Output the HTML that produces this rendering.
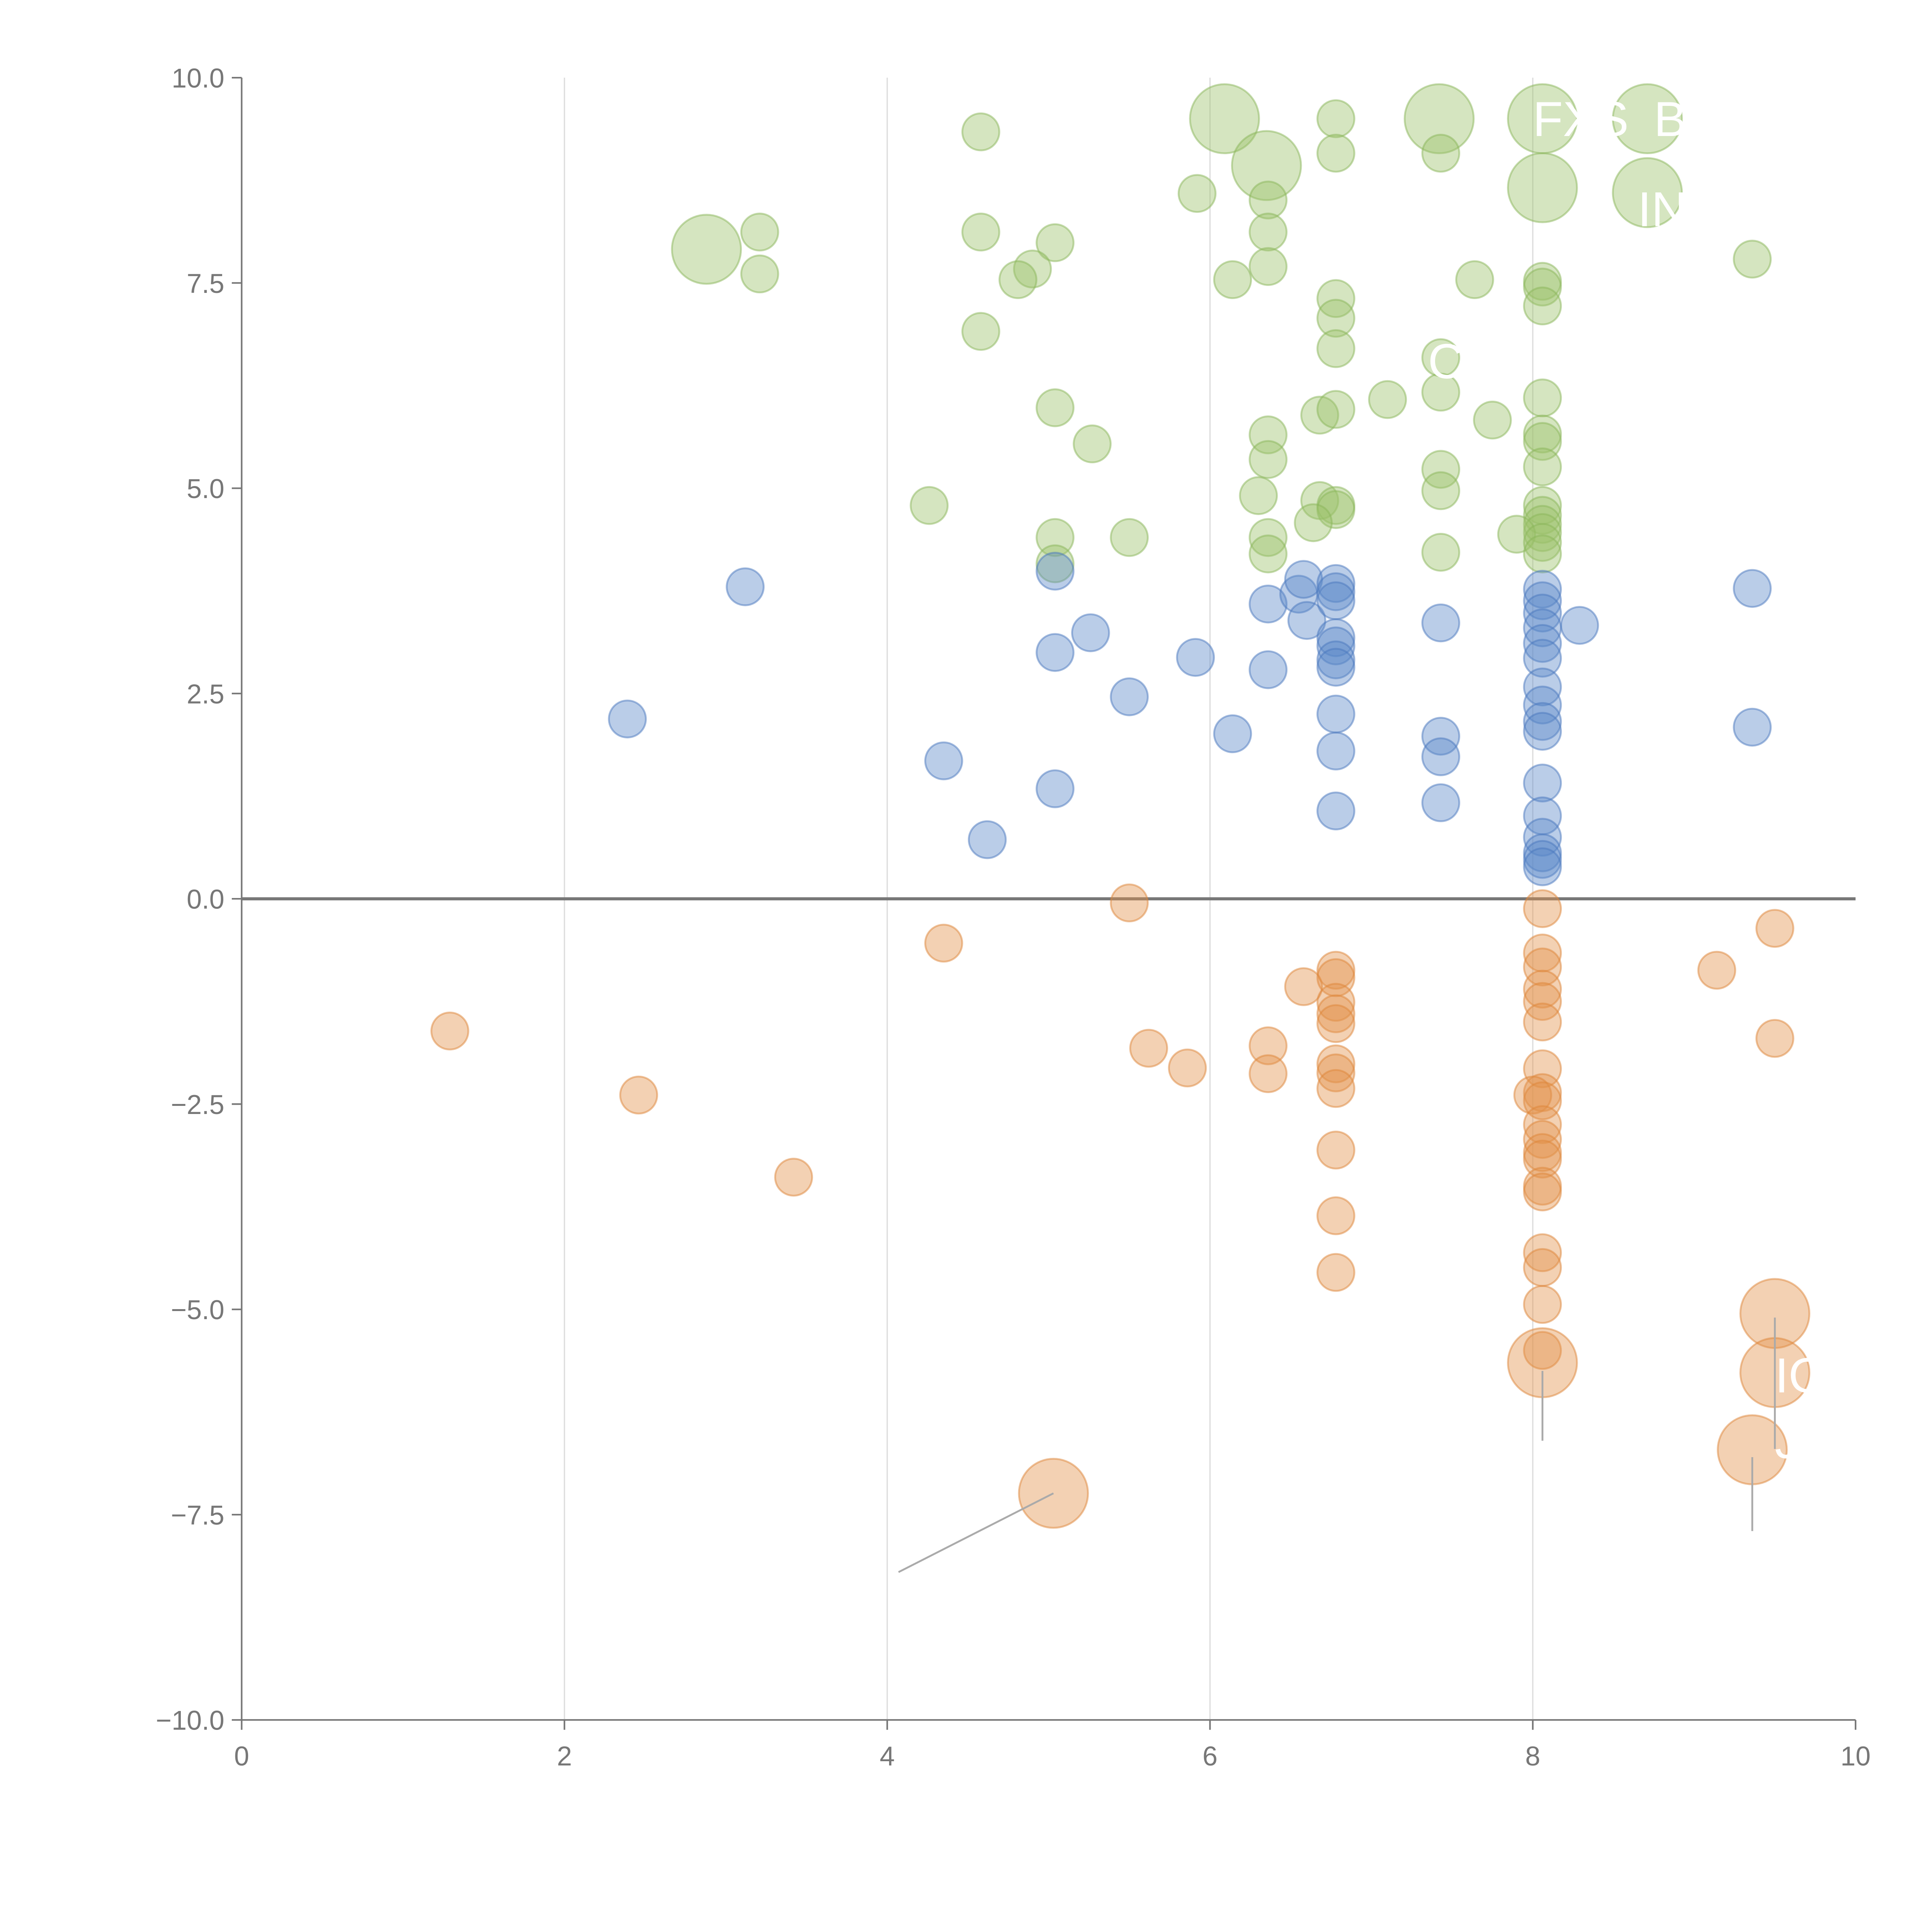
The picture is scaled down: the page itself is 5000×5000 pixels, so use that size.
<!DOCTYPE html>
<html><head><meta charset="utf-8"><style>
html,body{margin:0;padding:0;background:#fff}
svg{display:block}
</style></head><body>
<svg id="chart" width="5000" height="5000" viewBox="0 0 1567 1567" xmlns="http://www.w3.org/2000/svg" font-family="'Liberation Sans', sans-serif">
<g id="grid"></g>
<g id="axes"></g>
<g id="marks"></g>
<g id="labels"></g>
</svg>
<script>
const xTicks=[0,2,4,6,8,10];
const yTicks=[10,7.5,5,2.5,0,-2.5,-5,-7.5,-10];
const yTickLabels=["10.0","7.5","5.0","2.5","0.0","\u22122.5","\u22125.0","\u22127.5","\u221210.0"];
const greenX=[4.58,3.21,3.21,2.88,4.58,5.04,4.90,4.81,4.58,5.04,5.27,4.26,5.04,5.04,5.50,5.92,6.09,6.35,6.14,6.36,6.36,6.36,6.36,6.36,6.30,6.36,6.36,6.68,6.78,6.78,6.78,6.78,6.78,6.78,6.68,6.78,6.78,6.64,7.10,7.42,7.43,7.64,7.43,7.43,7.75,7.43,7.43,7.43,8.06,8.06,8.06,8.06,8.06,8.06,8.06,8.06,8.06,8.06,8.06,8.06,8.06,7.90,8.06,8.06,8.71,8.71,9.36];
const greenY=[9.34,8.12,7.61,7.91,8.12,7.99,7.67,7.54,6.91,5.98,5.54,4.79,4.40,4.08,4.40,8.59,9.50,8.93,7.54,8.51,8.12,7.70,5.65,5.35,4.91,4.40,4.20,5.89,9.50,9.08,7.31,7.07,6.70,5.96,4.85,4.79,4.74,4.58,6.08,9.50,9.08,7.54,6.59,6.17,5.83,5.23,4.97,4.22,9.50,8.66,7.52,7.45,7.22,6.10,5.66,5.57,5.26,4.79,4.67,4.56,4.46,4.44,4.34,4.20,9.50,8.60,7.79];
const greenSize=[1,1,1,2,1,1,1,1,1,1,1,1,1,1,1,1,2,2,1,1,1,1,1,1,1,1,1,1,1,1,1,1,1,1,1,1,1,1,1,2,1,1,1,1,1,1,1,1,2,2,1,1,1,1,1,1,1,1,1,1,1,1,1,1,2,2,1];
const blueX=[2.39,3.12,4.35,4.62,5.04,5.04,5.04,5.26,5.50,5.91,6.14,6.36,6.36,6.55,6.60,6.58,6.78,6.78,6.78,6.78,6.78,6.78,6.78,6.78,6.78,6.78,7.43,7.43,7.43,7.43,8.06,8.06,8.06,8.06,8.06,8.06,8.06,8.06,8.06,8.06,8.06,8.06,8.06,8.06,8.06,8.06,8.29,9.36,9.36];
const blueY=[2.19,3.80,1.68,0.72,3.99,3.00,1.34,3.24,2.46,2.94,2.01,3.59,2.79,3.71,3.39,3.89,3.84,3.74,3.63,3.18,3.08,2.91,2.82,2.25,1.80,1.07,3.36,1.98,1.73,1.17,3.77,3.63,3.48,3.30,3.11,2.93,2.58,2.36,2.16,2.04,1.41,1.01,0.75,0.56,0.48,0.39,3.33,3.78,2.09];
const orangeX=[1.29,2.46,3.42,4.35,5.50,5.62,5.86,5.03,6.36,6.36,6.58,6.78,6.78,6.78,6.78,6.78,6.78,6.78,6.78,6.78,6.78,6.78,8.06,8.06,8.06,8.06,8.06,8.06,8.06,8.06,8.00,8.06,8.06,8.06,8.06,8.06,8.06,8.06,8.06,8.06,8.06,8.06,8.06,9.14,9.50,9.50,9.50,9.50,9.36];
const orangeY=[-1.61,-2.39,-3.39,-0.54,-0.05,-1.82,-2.06,-7.24,-1.79,-2.13,-1.07,-0.87,-0.96,-1.26,-1.40,-1.52,-2.01,-2.12,-2.31,-3.06,-3.86,-4.55,-0.12,-0.66,-0.83,-1.10,-1.25,-1.50,-2.07,-2.36,-2.39,-2.46,-2.75,-2.93,-3.09,-3.17,-3.50,-3.57,-4.31,-4.49,-4.94,-5.50,-5.65,-0.87,-0.36,-1.70,-5.05,-5.77,-6.71];
const orangeSize=[1,1,1,1,1,1,1,2,1,1,1,1,1,1,1,1,1,1,1,1,1,1,1,1,1,1,1,1,1,1,1,1,1,1,1,1,1,1,1,1,1,1,2,1,1,1,2,2,2];
const annotText=["FXS","B","IN","C","IO","J"];
const annotX=[8.0,8.75,8.65,7.35,9.5,9.5];
const annotY=[9.5,9.5,8.4,6.55,-5.8,-6.6];

const NS="http://www.w3.org/2000/svg";
const X0=196,X1=1505,Y0=63,Y1=1395;
const sx=v=>X0+(v-0)/(10-0)*(X1-X0);
const sy=v=>Y0+(10-v)/20*(Y1-Y0);
function mk(tag,attrs,parent){const e=document.createElementNS(NS,tag);for(const k in attrs)e.setAttribute(k,attrs[k]);parent.appendChild(e);return e;}
const grid=document.getElementById('grid'),axes=document.getElementById('axes'),marks=document.getElementById('marks'),labels=document.getElementById('labels');
xTicks.forEach(t=>{if(t>0&&t<10){const l=mk('line',{x1:sx(t),x2:sx(t),y1:Y0,y2:Y1,stroke:'#dcdcdc','stroke-width':1},grid);

}});
const yl=mk('line',{x1:X0,x2:X0,y1:Y0,y2:Y1,stroke:'#777','stroke-width':1.3},axes);


const xl=mk('line',{x1:X0,x2:X1,y1:Y1,y2:Y1,stroke:'#777','stroke-width':1.3},axes);


xTicks.forEach(t=>{const tk=mk('line',{x1:sx(t),x2:sx(t),y1:Y1,y2:Y1+8,stroke:'#777','stroke-width':1.3},axes);


const tx=mk('text',{x:sx(t),y:Y1+37,'text-anchor':'middle','font-size':22,fill:'#777'},axes);tx.textContent=t;

});
yTicks.forEach((t,i)=>{const tk=mk('line',{x1:X0-8,x2:X0,y1:sy(t),y2:sy(t),stroke:'#777','stroke-width':1.3},axes);


const tx=mk('text',{x:X0-14,y:sy(t)+8,'text-anchor':'end','font-size':22,fill:'#777'},axes);tx.textContent=yTickLabels[i];

});
const zl=mk('line',{x1:X0,x2:X1,y1:sy(0),y2:sy(0),stroke:'#777','stroke-width':2.5},axes);


function series(xs,ys,sz,fill,stroke,name){xs.forEach((x,i)=>{const s=sz?sz[i]:1;
const c=mk('circle',{cx:sx(x),cy:sy(ys[i]),r:s===2?28:15,fill:fill,'fill-opacity':0.42,stroke:stroke,'stroke-opacity':0.5,'stroke-width':1.5},marks);

});}
series(greenX,greenY,greenSize,'#9cc26a','#8ab55a','green-bubble');
series(blueX,blueY,null,'#5b88c8','#4a78bd','blue-bubble');
series(orangeX,orangeY,orangeSize,'#e2914a','#dd853a','orange-bubble');
const leaders=[[5.03,-7.24,4.07,-8.2],[8.06,-5.75,8.06,-6.6],[9.5,-5.1,9.5,-6.7],[9.36,-6.8,9.36,-7.7]];
leaders.forEach(l=>{const e=mk('line',{x1:sx(l[0]),y1:sy(l[1]),x2:sx(l[2]),y2:sy(l[3]),stroke:'#aaa','stroke-width':1.5},labels);

});
annotText.forEach((t,i)=>{const e=mk('text',{x:sx(annotX[i]),y:sy(annotY[i])+14,'font-size':40,fill:'#fff'},labels);e.textContent=t;

});
</script>
</body></html>
